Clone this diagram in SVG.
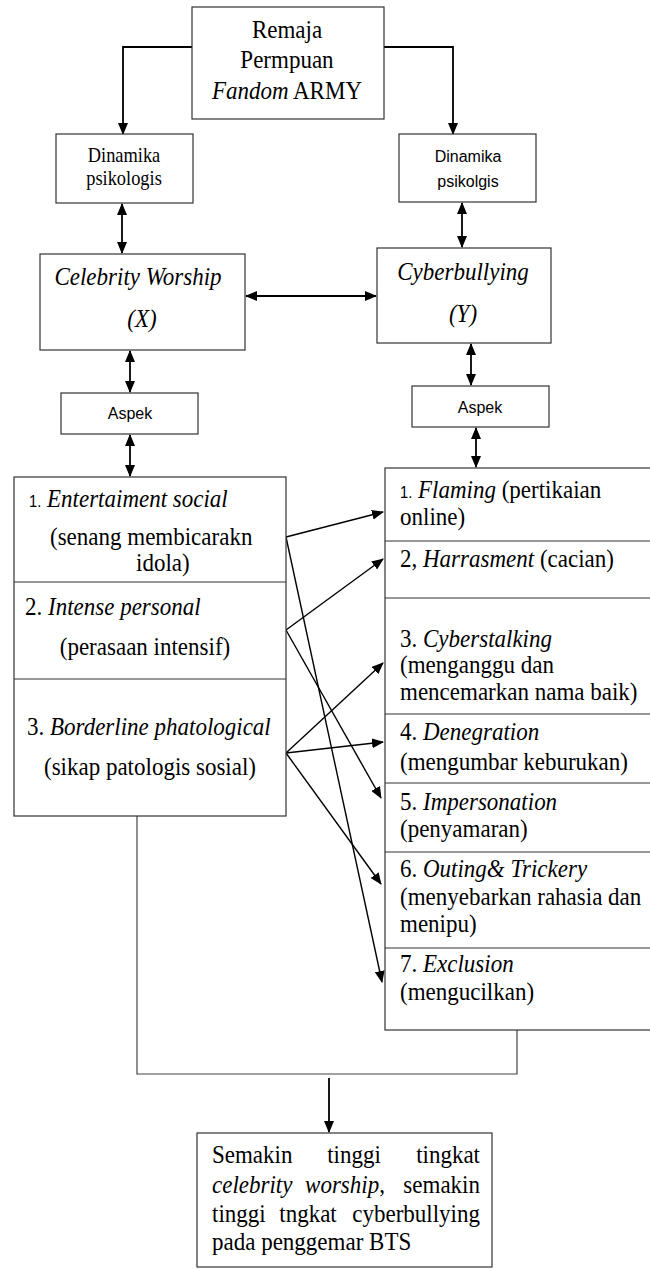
<svg xmlns="http://www.w3.org/2000/svg" width="650" height="1269" viewBox="0 0 650 1269">
<style>
.bg{fill:#fff}
.box{fill:#fff;stroke:#333;stroke-width:1.2}
.dv{stroke:#333;stroke-width:1.2;fill:none}
.s{font-family:"Liberation Serif","Times New Roman",serif;font-size:25px;fill:#000;transform-box:fill-box;transform-origin:left center;transform:scaleX(0.92)}
.sm{font-size:20px}
.i{font-style:italic}
.sans{font-family:"Liberation Sans",Arial,sans-serif;font-size:16px;fill:#000}
.c{text-anchor:middle;transform-origin:center}
.e{text-anchor:end;transform-origin:right center}
.ln{stroke:#000;stroke-width:1.8;fill:none}
.th{stroke:#000;stroke-width:1.4;fill:none}
.pl{stroke:#444;stroke-width:1.2;fill:none}
</style>
<defs>
<marker id="ah" markerUnits="userSpaceOnUse" markerWidth="12" markerHeight="10" refX="11" refY="5" orient="auto-start-reverse" viewBox="0 0 12 10">
<path d="M0,0 L12,5 L0,10 z" fill="#000"/>
</marker>
</defs>
<rect class="bg" x="0" y="0" width="650" height="1269"/>

<g id="connectors">
<path class="ln" d="M192,47 H123 V134" marker-end="url(#ah)"/>
<path class="ln" d="M384,47 H453 V134" marker-end="url(#ah)"/>
<path class="ln" d="M122,204 V253" marker-start="url(#ah)" marker-end="url(#ah)"/>
<path class="ln" d="M462,203 V247" marker-start="url(#ah)" marker-end="url(#ah)"/>
<path class="ln" d="M246,296 H376" marker-start="url(#ah)" marker-end="url(#ah)"/>
<path class="ln" d="M130,351 V392" marker-start="url(#ah)" marker-end="url(#ah)"/>
<path class="ln" d="M130,435 V476" marker-start="url(#ah)" marker-end="url(#ah)"/>
<path class="ln" d="M471,344 V385" marker-start="url(#ah)" marker-end="url(#ah)"/>
<path class="ln" d="M476,428 V467" marker-start="url(#ah)" marker-end="url(#ah)"/>
<path class="th" d="M286,537 L383,512" marker-end="url(#ah)"/>
<path class="th" d="M286,537 L382,982" marker-end="url(#ah)"/>
<path class="th" d="M286,630 L383,559" marker-end="url(#ah)"/>
<path class="th" d="M286,630 L381,798" marker-end="url(#ah)"/>
<path class="th" d="M286,753 L383,663" marker-end="url(#ah)"/>
<path class="th" d="M286,753 L383,742" marker-end="url(#ah)"/>
<path class="th" d="M286,753 L381,884" marker-end="url(#ah)"/>
<path class="pl" d="M137,816 V1074 H517 V1030"/>
<path class="ln" d="M329,1078 V1132" marker-end="url(#ah)"/>
</g>

<g id="remaja">
<rect class="box" x="192" y="7" width="192" height="112"/>
<text class="s c" x="287" y="38">Remaja</text>
<text class="s c" x="287" y="68">Permpuan</text>
<text class="s c" x="287" y="99"><tspan class="i">Fandom</tspan> ARMY</text>
</g>

<g id="dinamika-left">
<rect class="box" x="56" y="134" width="137" height="69"/>
<text class="s sm c" x="124" y="162">Dinamika</text>
<text class="s sm c" x="124" y="185">psikologis</text>
</g>

<g id="dinamika-right">
<rect class="box" x="399" y="134" width="137" height="68"/>
<text class="sans c" x="468" y="162">Dinamika</text>
<text class="sans c" x="468" y="187">psikolgis</text>
</g>

<g id="celebrity-worship">
<rect class="box" x="40" y="254" width="205" height="96"/>
<text class="s i c" x="138" y="285">Celebrity Worship</text>
<text class="s i c" x="142" y="327">(X)</text>
</g>

<g id="cyberbullying">
<rect class="box" x="377" y="248" width="174" height="95"/>
<text class="s i c" x="463" y="280">Cyberbullying</text>
<text class="s i c" x="463" y="322">(Y)</text>
</g>

<g id="aspek-left">
<rect class="box" x="61" y="393" width="137" height="41"/>
<text class="sans c" x="130" y="419">Aspek</text>
</g>

<g id="aspek-right">
<rect class="box" x="412" y="386" width="137" height="41"/>
<text class="sans c" x="480" y="413">Aspek</text>
</g>

<g id="cw-aspects">
<rect class="box" x="14" y="477" width="272" height="339"/>
<path class="dv" d="M14,582 H286 M14,679 H286"/>
<text class="s" x="29" y="507"><tspan class="sans" font-size="18">1.</tspan> <tspan class="i">Entertaiment social</tspan></text>
<text class="s" x="50" y="545">(senang membicarakn</text>
<text class="s" x="136" y="571">idola)</text>
<text class="s" x="25" y="615">2. <tspan class="i">Intense personal</tspan></text>
<text class="s c" x="145" y="655">(perasaan intensif)</text>
<text class="s" x="27" y="735">3. <tspan class="i">Borderline phatological</tspan></text>
<text class="s c" x="150" y="775">(sikap patologis sosial)</text>
</g>

<g id="cb-aspects">
<rect class="box" x="385" y="468" width="268" height="562"/>
<path class="dv" d="M385,541 H652 M385,598 H652 M385,714 H652 M385,783 H652 M385,852 H652 M385,948 H652"/>
<text class="s" x="400" y="498"><tspan class="sans" font-size="18">1.</tspan> <tspan class="i">Flaming</tspan> (pertikaian</text>
<text class="s" x="400" y="525">online)</text>
<text class="s" x="400" y="567">2, <tspan class="i">Harrasment</tspan> (cacian)</text>
<text class="s" x="400" y="647">3. <tspan class="i">Cyberstalking</tspan></text>
<text class="s" x="400" y="673">(menganggu dan</text>
<text class="s" x="400" y="700">mencemarkan nama baik)</text>
<text class="s" x="400" y="740">4. <tspan class="i">Denegration</tspan></text>
<text class="s" x="400" y="770">(mengumbar keburukan)</text>
<text class="s" x="400" y="810">5. <tspan class="i">Impersonation</tspan></text>
<text class="s" x="400" y="837">(penyamaran)</text>
<text class="s" x="400" y="877">6. <tspan class="i">Outing&amp; Trickery</tspan></text>
<text class="s" x="400" y="905">(menyebarkan rahasia dan</text>
<text class="s" x="400" y="932">menipu)</text>
<text class="s" x="400" y="972">7. <tspan class="i">Exclusion</tspan></text>
<text class="s" x="400" y="1000">(mengucilkan)</text>
</g>

<g id="conclusion">
<rect class="box" x="197" y="1133" width="295" height="134"/>
<text class="s" x="212" y="1163">Semakin</text>
<text class="s c" x="354" y="1163">tinggi</text>
<text class="s e" x="480" y="1163">tingkat</text>
<text class="s i" x="212" y="1193">celebrity</text>
<text class="s c" x="345" y="1193"><tspan class="i">worship</tspan>,</text>
<text class="s e" x="480" y="1193">semakin</text>
<text class="s" x="212" y="1222">tinggi</text>
<text class="s c" x="308" y="1222">tngkat</text>
<text class="s e" x="480" y="1222">cyberbullying</text>
<text class="s" x="212" y="1250">pada penggemar BTS</text>
</g>
</svg>
